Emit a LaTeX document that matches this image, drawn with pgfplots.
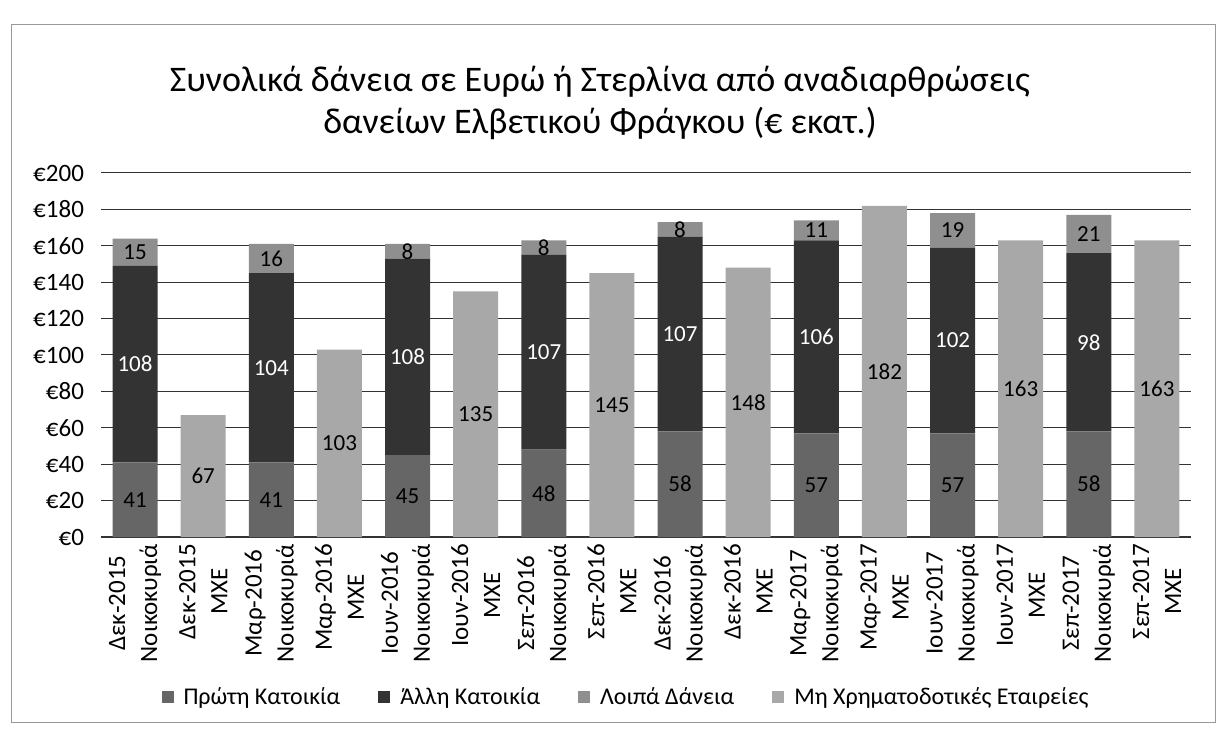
\documentclass[border=0pt]{standalone}
\usepackage{fontspec}
\setmainfont{Carlito}
\usepackage{pgfplots}
\usepackage{pgfplotstable}
\pgfplotsset{compat=1.18}

\definecolor{cPrwti}{gray}{0.40}
\definecolor{cAllh}{gray}{0.20}
\definecolor{cLoipa}{gray}{0.56}
\definecolor{cMXE}{gray}{0.66}

\pgfplotstableread{
x a b c d
0 41 108 15 0
1 0 0 0 67
2 41 104 16 0
3 0 0 0 103
4 45 108 8 0
5 0 0 0 135
6 48 107 8 0
7 0 0 0 145
8 58 107 8 0
9 0 0 0 148
10 57 106 11 0
11 0 0 0 182
12 57 102 19 0
13 0 0 0 163
14 58 98 21 0
15 0 0 0 163
}\datatable

\begin{document}
\begin{tikzpicture}
\begin{axis}[
  at={(0,0)}, anchor=south west,
  scale only axis,
  width=545pt, height=182pt,
  ybar stacked,
  bar width=22.5pt,
  xmin=-0.5, xmax=15.5,
  ymin=0, ymax=200,
  ytick={0,20,...,200},
  ymajorgrids,
  grid style={black!80, line width=0.5pt},
  axis x line*=bottom,
  axis y line*=left,
  y axis line style={draw=none},
  x axis line style={black!80, line width=0.7pt},
  major tick length=0pt,
  /pgf/number format/assume math mode=true,
  yticklabel={€\pgfmathprintnumber{\tick}},
  yticklabel style={font=\fontsize{12.5}{14}\selectfont, xshift=-5pt},
  xtick={0,...,15},
  xticklabels={
    {Δεκ-2015\\Νοικοκυριά},{Δεκ-2015\\ΜΧΕ},
    {Μαρ-2016\\Νοικοκυριά},{Μαρ-2016\\ΜΧΕ},
    {Ιουν-2016\\Νοικοκυριά},{Ιουν-2016\\ΜΧΕ},
    {Σεπ-2016\\Νοικοκυριά},{Σεπ-2016\\ΜΧΕ},
    {Δεκ-2016\\Νοικοκυριά},{Δεκ-2016\\ΜΧΕ},
    {Μαρ-2017\\Νοικοκυριά},{Μαρ-2017\\ΜΧΕ},
    {Ιουν-2017\\Νοικοκυριά},{Ιουν-2017\\ΜΧΕ},
    {Σεπ-2017\\Νοικοκυριά},{Σεπ-2017\\ΜΧΕ}},
  xticklabel style={rotate=90, anchor=east, align=center,
    font=\fontsize{12.5}{16}\selectfont},
  nodes near coords={\pgfmathfloatifflags{\pgfplotspointmeta}{0}{}{\pgfmathprintnumber{\pgfplotspointmeta}}},
  nodes near coords align=center,
  every node near coord/.append style={anchor=center,
    font=\fontsize{11.5}{13}\selectfont},
  legend style={at={(axis description cs:0.4826,-0.44)}, anchor=center,
    draw=none, fill=none, legend columns=4,
    font=\fontsize{12}{14}\selectfont,
    /tikz/every odd column/.append style={column sep=3pt},
    /tikz/every even column/.append style={column sep=17pt}},
  legend cell align=left,
  legend image code/.code={\fill[#1] (0pt,-3pt) rectangle (6pt,3pt);},
]
\addplot[fill=cPrwti, draw=none,
  every node near coord/.append style={text=black}]
  table[x=x, y=a, meta=a] {\datatable};
\addlegendentry{Πρώτη Κατοικία}
\addplot[fill=cAllh, draw=none,
  every node near coord/.append style={text=white}]
  table[x=x, y=b, meta=b] {\datatable};
\addlegendentry{Άλλη Κατοικία}
\addplot[fill=cLoipa, draw=none,
  every node near coord/.append style={text=black}]
  table[x=x, y=c, meta=c] {\datatable};
\addlegendentry{Λοιπά Δάνεια}
\addplot[fill=cMXE, draw=none,
  every node near coord/.append style={text=black}]
  table[x=x, y=d, meta=d] {\datatable};
\addlegendentry{Μη Χρηματοδοτικές Εταιρείες}
\end{axis}
\node[align=center, font=\fontsize{18}{21}\selectfont] at (249.5pt,217pt)
  {Συνολικά δάνεια σε Ευρώ ή Στερλίνα από αναδιαρθρώσεις\\δανείων Ελβετικού Φράγκου (€ εκατ.)};
\draw[black!40, line width=0.5pt] (-44.5pt,-92.5pt) rectangle (557pt,256pt);
\pgfresetboundingbox
\path (-50.5pt,-97.5pt) rectangle (558.5pt,268.5pt);
\end{tikzpicture}
\end{document}
